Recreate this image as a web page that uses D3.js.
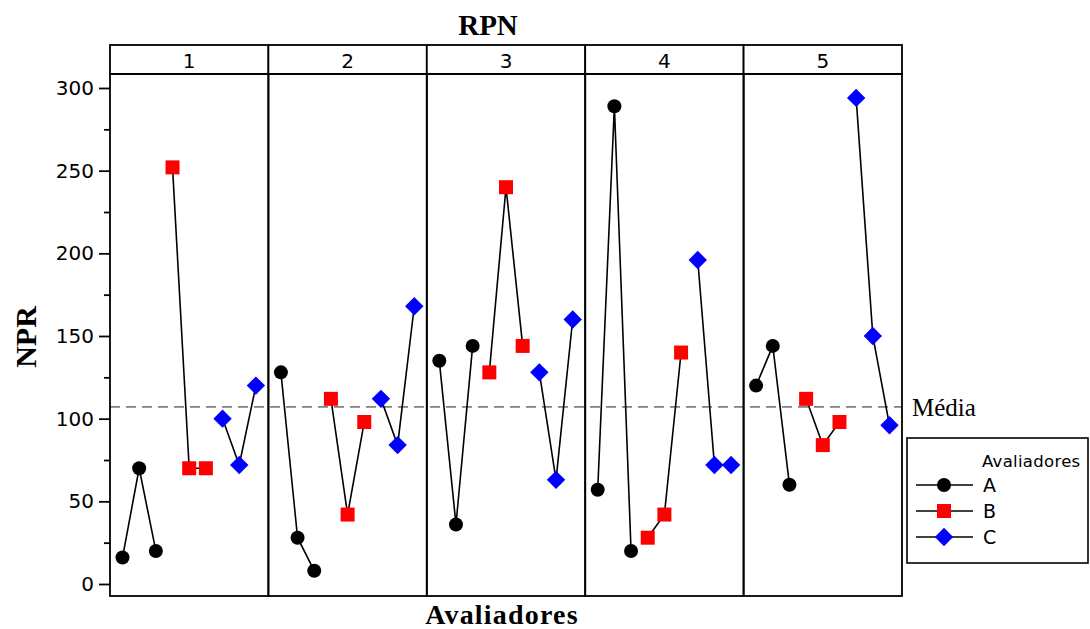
<!DOCTYPE html>
<html>
<head>
<meta charset="utf-8">
<script src="https://cdn.jsdelivr.net/npm/d3@7/dist/d3.min.js"></script>
<style>
  html, body { margin: 0; padding: 0; background: #fff; }
  svg { display: block; }
</style>
</head>
<body>
<svg id="chart" width="1090" height="629"></svg>
<script>
// ---------- data ----------
const panels = ["1", "2", "3", "4", "5"];
const appraisers = ["A", "B", "C"];
const valuesA = [[16, 70, 20], [128, 28, 8], [135, 36, 144], [57, 289, 20], [120, 144, 60]];
const valuesB = [[252, 70, 70], [112, 42, 98], [128, 240, 144], [28, 42, 140], [112, 84, 98]];
const valuesC = [[100, 72, 120], [112, 84, 168], [128, 63, 160], [196, 72, 72], [294, 150, 96]];
const yTicks = [0, 50, 100, 150, 200, 250, 300];
const yMinorTicks = [25, 75, 125, 175, 225, 275];
const titleText = "RPN";
const xTitle = "Avaliadores";
const yTitle = "NPR";
const meanLabel = "Média";
const legendTitle = "Avaliadores";

// ---------- layout ----------
const svg = d3.select("#chart");
const left = 110, right = 902;
const stripTop = 45, plotTop = 74, plotBottom = 596;
const sans = "'DejaVu Sans', Verdana, sans-serif";
const serif = "'Liberation Serif', 'Times New Roman', serif";

const seriesValues = { A: valuesA, B: valuesB, C: valuesC };
const colors = { A: "#000000", B: "#ff0000", C: "#0000ff" };

const y = d3.scaleLinear().domain([0, 300]).range([584, 88]);
const panelX = d3.scaleBand().domain(panels).range([left, right]).padding(0);
const slots = d3.range(9);
const slotX = d3.scalePoint().domain(slots).range([0, panelX.bandwidth()]).padding(0.75);

// flatten into records
const records = [];
panels.forEach((p, pi) => {
  appraisers.forEach((a, ai) => {
    seriesValues[a][pi].forEach((v, k) => {
      records.push({ panel: p, appraiser: a, slot: ai * 3 + k, value: v });
    });
  });
});
const meanValue = d3.mean(records, d => d.value);

// symbols
function symbolPath(a) {
  if (a === "A") return d3.symbol(d3.symbolCircle, Math.PI * 7 * 7)();
  if (a === "B") return d3.symbol(d3.symbolSquare, 14 * 14)();
  return d3.symbol(d3.symbolSquare, 13 * 13)();
}
function symbolTransform(a, cx, cy) {
  return a === "C" ? `translate(${cx},${cy}) rotate(45)` : `translate(${cx},${cy})`;
}

// ---------- title ----------
svg.append("text")
  .attr("x", 488).attr("y", 35)
  .attr("text-anchor", "middle")
  .style("font-family", serif).style("font-weight", "bold").style("font-size", "29px")
  .text(titleText);

// ---------- y axis ----------
const gy = svg.append("g").attr("transform", `translate(${left},0)`);
gy.call(d3.axisLeft(y).tickValues(yTicks).tickSize(11).tickPadding(5).tickFormat(d3.format("d")));
gy.select(".domain").remove();
gy.selectAll(".tick line").attr("stroke", "#000").attr("stroke-width", 1.8);
gy.selectAll(".tick text").style("font-family", sans).style("font-size", "20px").attr("fill", "#000");
const gym = svg.append("g").attr("transform", `translate(${left},0)`);
gym.call(d3.axisLeft(y).tickValues(yMinorTicks).tickSize(6).tickFormat(""));
gym.select(".domain").remove();
gym.selectAll(".tick line").attr("stroke", "#000").attr("stroke-width", 1.8);

svg.append("text")
  .attr("transform", `translate(36,${(plotTop + plotBottom) / 2 + 2}) rotate(-90)`)
  .attr("text-anchor", "middle")
  .style("font-family", serif).style("font-weight", "bold").style("font-size", "30px")
  .text(yTitle);

svg.append("text")
  .attr("x", 502).attr("y", 624)
  .attr("text-anchor", "middle")
  .style("font-family", serif).style("font-weight", "bold").style("font-size", "28px")
  .style("letter-spacing", "1.2px")
  .text(xTitle);

// ---------- mean line ----------
svg.append("line")
  .attr("x1", left).attr("x2", right)
  .attr("y1", y(meanValue)).attr("y2", y(meanValue))
  .attr("stroke", "#808080").attr("stroke-width", 1.6)
  .attr("stroke-dasharray", "10,6");
svg.append("text")
  .attr("x", 912).attr("y", y(meanValue) + 9)
  .style("font-family", serif).style("font-size", "25px")
  .text(meanLabel);

// ---------- panels ----------
panels.forEach(p => {
  const x0 = panelX(p);
  const g = svg.append("g");
  // strip
  g.append("rect")
    .attr("x", x0).attr("y", stripTop)
    .attr("width", panelX.bandwidth()).attr("height", plotTop - stripTop)
    .attr("fill", "#fff").attr("stroke", "#000").attr("stroke-width", 1.8);
  g.append("text")
    .attr("x", x0 + panelX.bandwidth() / 2).attr("y", plotTop - 6)
    .attr("text-anchor", "middle")
    .style("font-family", sans).style("font-size", "20px")
    .text(p);
  // panel frame
  g.append("rect")
    .attr("x", x0).attr("y", plotTop)
    .attr("width", panelX.bandwidth()).attr("height", plotBottom - plotTop)
    .attr("fill", "none").attr("stroke", "#000").attr("stroke-width", 1.8);

  const line = d3.line().x(d => x0 + slotX(d.slot)).y(d => y(d.value));
  appraisers.forEach(a => {
    const pts = records.filter(r => r.panel === p && r.appraiser === a);
    g.append("path").datum(pts)
      .attr("d", line)
      .attr("fill", "none").attr("stroke", "#000").attr("stroke-width", 1.6);
  });
  appraisers.forEach(a => {
    const pts = records.filter(r => r.panel === p && r.appraiser === a);
    g.selectAll(null).data(pts).enter().append("path")
      .attr("d", symbolPath(a))
      .attr("transform", d => symbolTransform(a, x0 + slotX(d.slot), y(d.value)))
      .attr("fill", colors[a]);
  });
});

// ---------- legend ----------
const lg = svg.append("g");
lg.append("rect")
  .attr("x", 907).attr("y", 438).attr("width", 181).attr("height", 125)
  .attr("fill", "#fff").attr("stroke", "#000").attr("stroke-width", 1.6);
lg.append("text")
  .attr("x", 982).attr("y", 467)
  .style("font-family", sans).style("font-size", "16.5px").style("letter-spacing", "0.3px")
  .text(legendTitle);
appraisers.forEach((a, i) => {
  const cy = 485 + i * 26;
  lg.append("line").attr("x1", 916).attr("x2", 973).attr("y1", cy).attr("y2", cy)
    .attr("stroke", "#000").attr("stroke-width", 1.6);
  lg.append("path").attr("d", symbolPath(a))
    .attr("transform", symbolTransform(a, 944, cy))
    .attr("fill", colors[a]);
  lg.append("text").attr("x", 983).attr("y", cy + 7)
    .style("font-family", sans).style("font-size", "19px")
    .text(a);
});
</script>
</body>
</html>
